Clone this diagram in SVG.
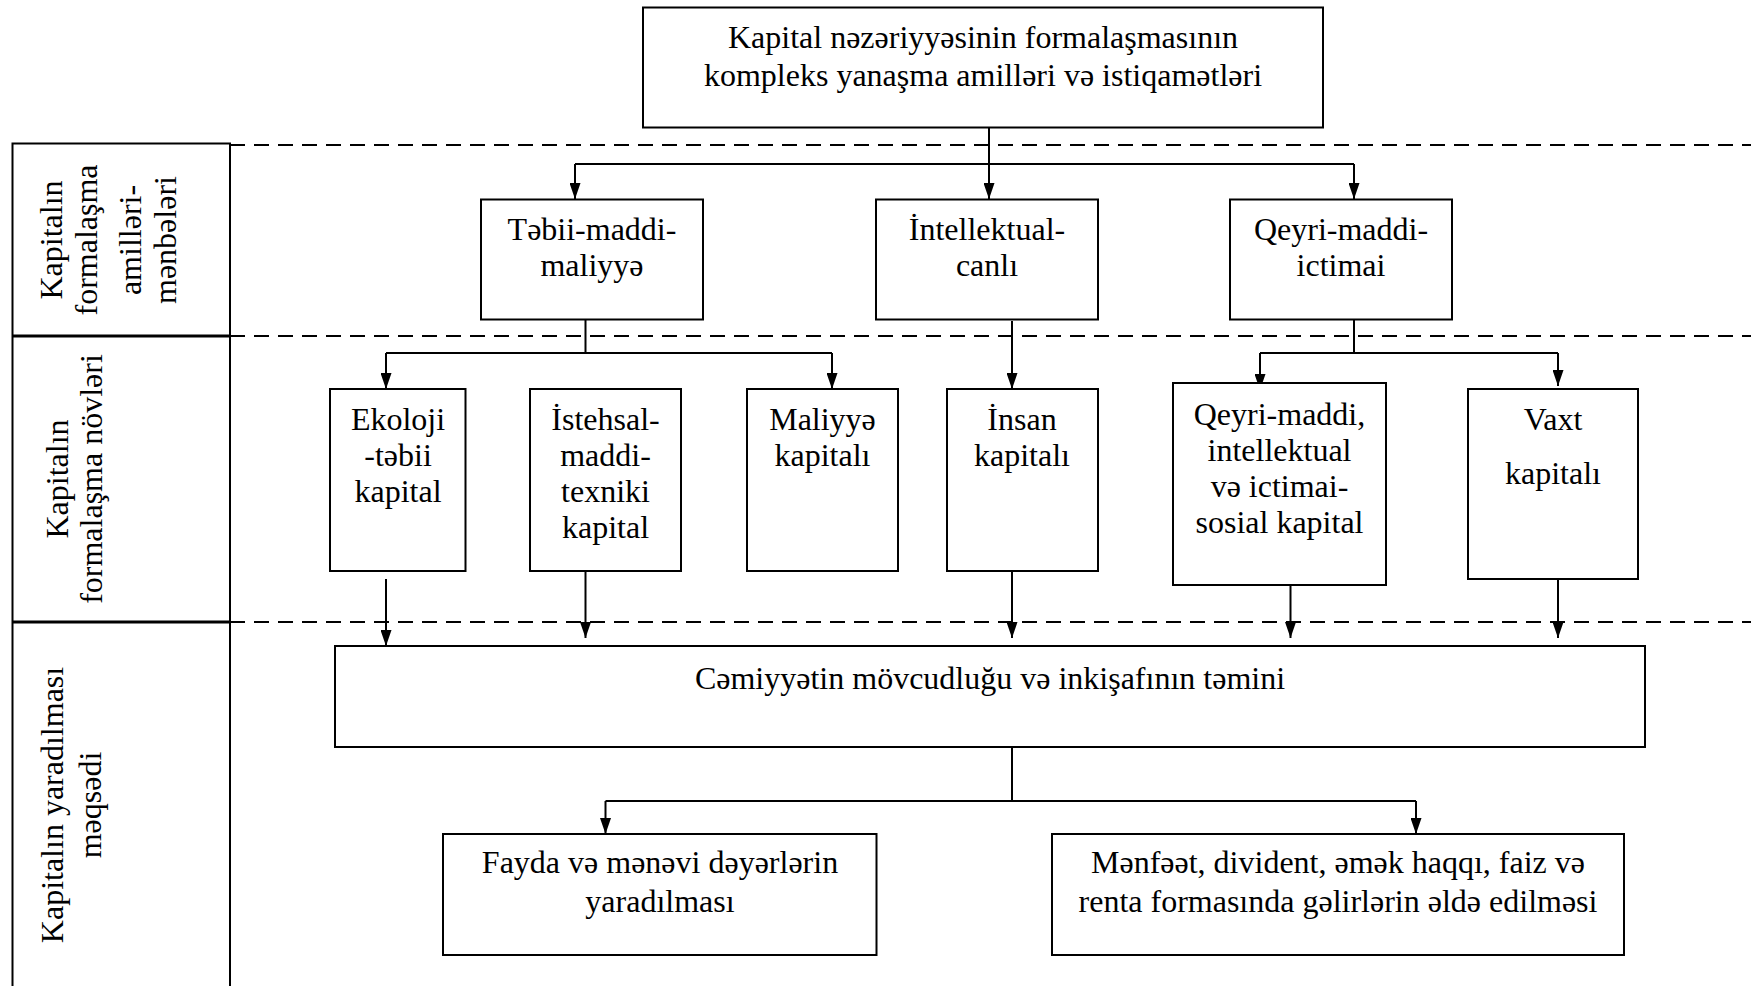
<svg xmlns="http://www.w3.org/2000/svg" width="1751" height="986" viewBox="0 0 1751 986">
<style>
text{font-family:"Liberation Serif","Times New Roman",serif;font-size:32px;fill:#000;text-anchor:middle}
.box{fill:#fff;stroke:#000;stroke-width:2}
.dash{stroke:#000;stroke-width:2;stroke-dasharray:15 9;fill:none}
.ln{stroke:#000;stroke-width:2;fill:none}
.arr{stroke:#000;stroke-width:2;fill:none;marker-end:url(#tri)}
</style>
<defs>
<marker id="tri" markerUnits="userSpaceOnUse" markerWidth="16" markerHeight="11" viewBox="0 0 16 11" refX="16" refY="5.5" orient="auto">
<path d="M0,0 L16,5.5 L0,11 Z" fill="#000"/>
</marker>
</defs>

<g id="lanes">
<line class="dash" x1="230" y1="145" x2="1751" y2="145"/>
<line class="dash" x1="230" y1="336" x2="1751" y2="336"/>
<line class="dash" x1="230" y1="622" x2="1751" y2="622"/>
<path class="ln" d="M12.5,990 V143.5 H230 V990"/>
<line x1="12.5" y1="336" x2="230" y2="336" stroke="#000" stroke-width="3"/>
<line x1="12.5" y1="622" x2="230" y2="622" stroke="#000" stroke-width="3"/>
</g>

<g id="lane1-label">
<text transform="translate(62,240) rotate(-90)">Kapitalın</text>
<text transform="translate(97,240) rotate(-90)">formalaşma</text>
<text transform="translate(141,240) rotate(-90)">amilləri-</text>
<text transform="translate(176,240) rotate(-90)">mənbələri</text>
</g>
<g id="lane2-label">
<text transform="translate(68,479) rotate(-90)">Kapitalın</text>
<text transform="translate(102,479) rotate(-90)">formalaşma növləri</text>
</g>
<g id="lane3-label">
<text transform="translate(63,805) rotate(-90)">Kapitalın yaradılması</text>
<text transform="translate(101,805) rotate(-90)">məqsədi</text>
</g>

<g id="connectors">
<line class="ln" x1="989" y1="127" x2="989" y2="164"/>
<path class="arr" d="M989,164 V199"/>
<path class="ln" d="M575,164 H1354"/>
<path class="arr" d="M575,164 V199"/>
<path class="arr" d="M1354,164 V199"/>

<path class="ln" d="M585.5,319 V353 M386,353 H832"/>
<path class="arr" d="M386,353 V389"/>
<path class="arr" d="M832,353 V389"/>
<path class="arr" d="M1012,321 V389"/>
<path class="ln" d="M1354,319 V353 M1260,353 H1558"/>
<path class="arr" d="M1260,353 V390"/>
<path class="arr" d="M1558,353 V386"/>

<path class="arr" d="M386,579 V646"/>
<path class="arr" d="M585.5,571 V638"/>
<path class="arr" d="M1012,571 V638"/>
<path class="arr" d="M1290.5,579 V638"/>
<path class="arr" d="M1558,579 V638"/>

<path class="ln" d="M1012,747 V801 M605.5,801 H1416"/>
<path class="arr" d="M605.5,801 V834"/>
<path class="arr" d="M1416,801 V834"/>
</g>

<g id="top">
<rect class="box" x="643" y="7.5" width="680" height="120"/>
<text x="983" y="48">Kapital nəzəriyyəsinin formalaşmasının</text>
<text x="983" y="86">kompleks yanaşma amilləri və istiqamətləri</text>
</g>

<g id="tebii">
<rect class="box" x="481" y="199.5" width="222" height="120"/>
<text x="592" y="240">Təbii-maddi-</text>
<text x="592" y="276">maliyyə</text>
</g>
<g id="intellektual">
<rect class="box" x="876" y="199.5" width="222" height="120"/>
<text x="987" y="240">İntellektual-</text>
<text x="987" y="276">canlı</text>
</g>
<g id="qeyri">
<rect class="box" x="1230" y="199.5" width="222" height="120"/>
<text x="1341" y="240">Qeyri-maddi-</text>
<text x="1341" y="276">ictimai</text>
</g>

<g id="ekoloji">
<rect class="box" x="330" y="389" width="135.5" height="182"/>
<text x="398" y="430">Ekoloji</text>
<text x="398" y="466">-təbii</text>
<text x="398" y="502">kapital</text>
</g>
<g id="istehsal">
<rect class="box" x="530" y="389" width="151" height="182"/>
<text x="605.5" y="430">İstehsal-</text>
<text x="605.5" y="466">maddi-</text>
<text x="605.5" y="502">texniki</text>
<text x="605.5" y="538">kapital</text>
</g>
<g id="maliyye">
<rect class="box" x="747" y="389" width="151" height="182"/>
<text x="822.5" y="430">Maliyyə</text>
<text x="822.5" y="466">kapitalı</text>
</g>
<g id="insan">
<rect class="box" x="947" y="389" width="151" height="182"/>
<text x="1022" y="430">İnsan</text>
<text x="1022" y="466">kapitalı</text>
</g>
<g id="qeyri-kapital">
<rect class="box" x="1173" y="383" width="213" height="202"/>
<text x="1279.5" y="425">Qeyri-maddi,</text>
<text x="1279.5" y="461">intellektual</text>
<text x="1279.5" y="497">və ictimai-</text>
<text x="1279.5" y="533">sosial kapital</text>
</g>
<g id="vaxt">
<rect class="box" x="1468" y="389" width="170" height="190"/>
<text x="1553" y="430">Vaxt</text>
<text x="1553" y="484">kapitalı</text>
</g>

<g id="cemiyyet">
<rect class="box" x="335" y="646" width="1310" height="101"/>
<text x="990" y="689">Cəmiyyətin mövcudluğu və inkişafının təmini</text>
</g>

<g id="fayda">
<rect class="box" x="443" y="834" width="433.5" height="121"/>
<text x="660" y="873">Fayda və mənəvi dəyərlərin</text>
<text x="660" y="912">yaradılması</text>
</g>
<g id="menfeet">
<rect class="box" x="1052" y="834" width="572" height="121"/>
<text x="1338" y="873">Mənfəət, divident, əmək haqqı, faiz və</text>
<text x="1338" y="912">renta formasında gəlirlərin əldə edilməsi</text>
</g>
</svg>
